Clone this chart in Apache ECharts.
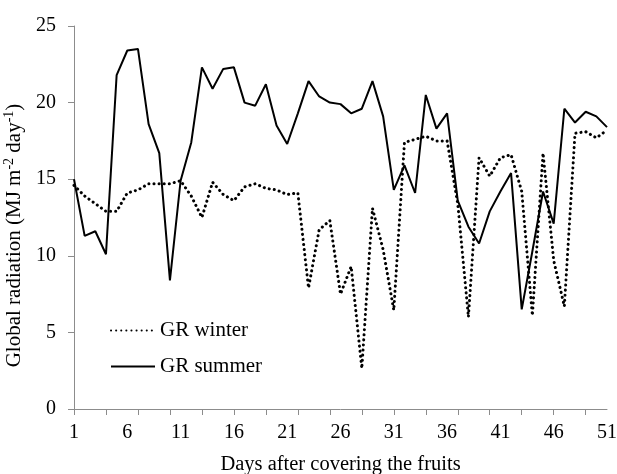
<!DOCTYPE html>
<html>
<head>
<meta charset="utf-8">
<script src="https://cdn.jsdelivr.net/npm/echarts@6/dist/echarts.min.js"></script>
<style>
  html, body { margin: 0; padding: 0; background: #fff; }
  #chartBox { width: 617px; height: 474px; }
</style>
</head>
<body>
<div id="chartBox"></div>
<script>
// days after covering (category axis)
const days = []
for (let d = 1; d <= 51; d++) days.push(String(d))

// GR winter (dotted)
const grWinter = [
  14.6, 13.9, 13.4, 12.9, 12.9, 14.1, 14.3, 14.7, 14.7, 14.7,
  14.9, 13.9, 12.5, 14.8, 14.0, 13.6, 14.5, 14.7, 14.4, 14.3,
  14.0, 14.1, 7.9, 11.7, 12.3, 7.5, 9.3, 2.65, 13.1, 10.4,
  6.45, 17.4, 17.6, 17.8, 17.5, 17.5, 13.4, 6.0, 16.4, 15.2,
  16.4, 16.6, 14.2, 6.1, 16.7, 9.7, 6.7, 18.0, 18.1, 17.7,
  18.2
]

// GR summer (solid)
const grSummer = [
  15.0, 11.3, 11.6, 10.1, 21.8, 23.4, 23.5, 18.6, 16.7, 8.4,
  14.9, 17.4, 22.3, 20.9, 22.2, 22.3, 20.0, 19.8, 21.2, 18.5,
  17.3, 19.3, 21.4, 20.4, 20.0, 19.9, 19.3, 19.6, 21.4, 19.1,
  14.3, 15.9, 14.1, 20.5, 18.3, 19.3, 13.6, 11.9, 10.8, 12.9,
  14.2, 15.4, 6.5, 10.3, 14.2, 12.1, 19.6, 18.7, 19.4, 19.1,
  18.4
]

const font = 'Liberation Serif'
const axisGray = '#8c8c8c'

const myChart = echarts.init(document.getElementById('chartBox'))

const chartOptions = {
  animation: false,
  textStyle: { fontFamily: font, color: '#000' },
  grid: { left: 74, right: 10, top: 26, bottom: 65, outerBoundsMode: 'none' },
  legend: {
    orient: 'vertical',
    left: 105,
    top: 315,
    itemWidth: 44,
    itemHeight: 10,
    itemGap: 15,
    itemStyle: { opacity: 0 },
    textStyle: { fontFamily: font, fontSize: 21, color: '#000' },
    data: ['GR winter', 'GR summer']
  },
  xAxis: {
    type: 'category',
    data: days,
    boundaryGap: false,
    name: 'Days after covering the fruits',
    nameLocation: 'middle',
    nameGap: 45,
    nameTextStyle: { fontFamily: font, fontSize: 20.5, color: '#000' },
    axisLine: { lineStyle: { color: axisGray, width: 1 } },
    axisTick: { interval: 2, length: 6, lineStyle: { color: axisGray } },
    axisLabel: { interval: 4, margin: 14, fontFamily: font, fontSize: 20, color: '#000' }
  },
  yAxis: {
    type: 'value',
    min: 0,
    max: 25,
    interval: 5,
    name: '{t|Global radiation (MJ m}{sup|-2}{t| day}{sup|-1}{t|)}',
    nameLocation: 'middle',
    nameGap: 42,
    nameTextStyle: {
      fontFamily: font,
      fontSize: 21,
      color: '#000',
      padding: [0, 36, 0, 0],
      rich: {
        t: { fontFamily: font, fontSize: 21, color: '#000', lineHeight: 24 },
        sup: { fontFamily: font, fontSize: 14, color: '#000', verticalAlign: 'top', lineHeight: 24 }
      }
    },
    axisLine: { show: true, lineStyle: { color: axisGray, width: 1 } },
    axisTick: { show: true, length: 6, lineStyle: { color: axisGray } },
    splitLine: { show: false },
    axisLabel: { margin: 18, fontFamily: font, fontSize: 20, color: '#000' }
  },
  series: [
    {
      name: 'GR winter',
      type: 'line',
      data: grWinter,
      symbol: 'none',
      itemStyle: { color: '#000' },
      lineStyle: { color: '#000', width: 3, type: [0.1, 5], cap: 'round' }
    },
    {
      name: 'GR summer',
      type: 'line',
      data: grSummer,
      symbol: 'none',
      itemStyle: { color: '#000' },
      lineStyle: { color: '#000', width: 2 }
    }
  ]
}

if (myChart) {
  myChart.setOption(chartOptions)
}
</script>
</body>
</html>
